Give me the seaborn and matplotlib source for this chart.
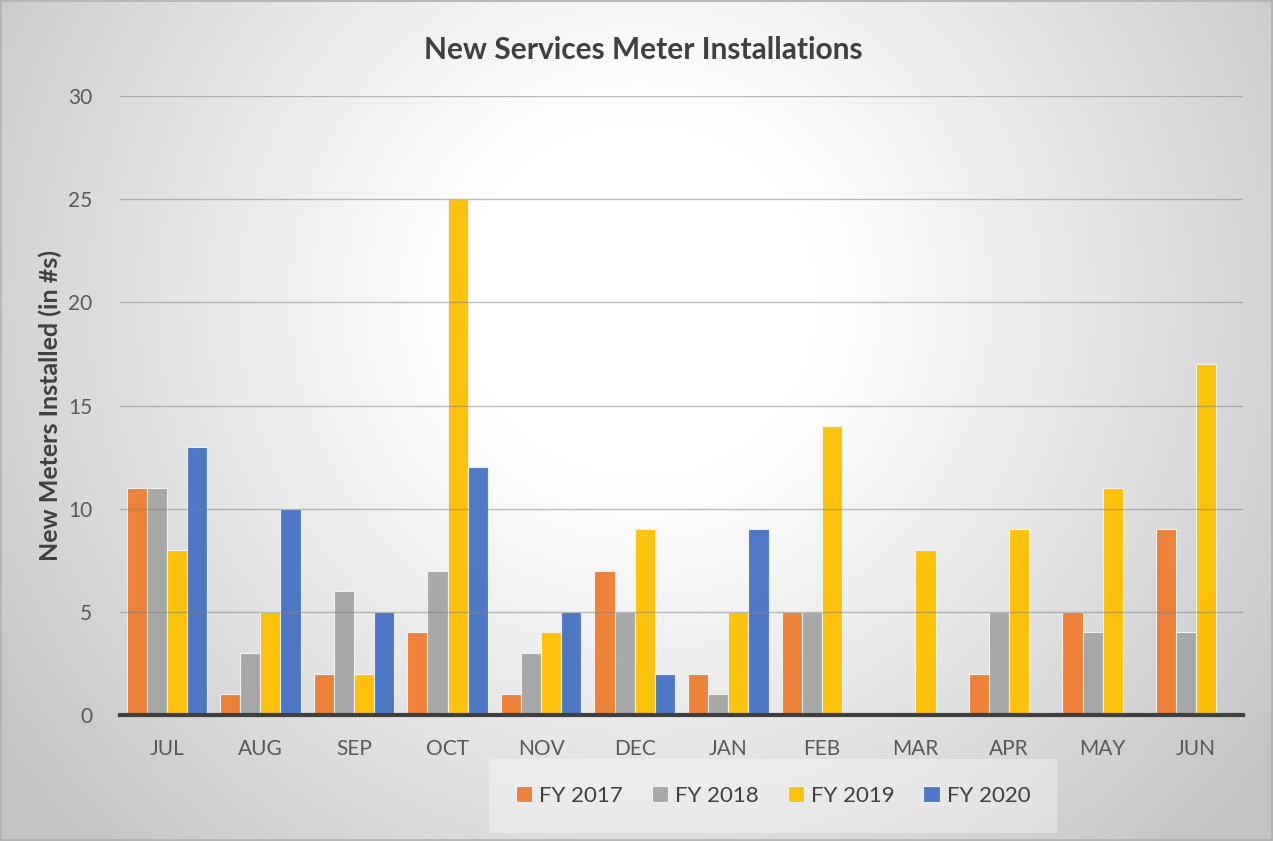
import numpy as np
import pandas as pd
import matplotlib
matplotlib.use("Agg")
import matplotlib.pyplot as plt
import seaborn as sns

months = ["JUL", "AUG", "SEP", "OCT", "NOV", "DEC", "JAN", "FEB", "MAR", "APR", "MAY", "JUN"]
fy2017 = [11, 1, 2, 4, 1, 7, 2, 5, 0, 2, 5, 9]
fy2018 = [11, 3, 6, 7, 3, 5, 1, 5, 0, 5, 4, 4]
fy2019 = [8, 5, 2, 25, 4, 9, 5, 14, 8, 9, 11, 17]
fy2020 = [13, 10, 5, 12, 5, 2, 9, np.nan, np.nan, np.nan, np.nan, np.nan]
series_names = ["FY 2017", "FY 2018", "FY 2019", "FY 2020"]
colors = ["#ED7D31", "#A5A5A5", "#FFC000", "#4472C4"]

rows = []
for name, vals in zip(series_names, [fy2017, fy2018, fy2019, fy2020]):
    for m, v in zip(months, vals):
        rows.append({"Month": m, "Series": name, "Value": v})
df = pd.DataFrame(rows)

sns.set_theme(style="white")
plt.rcParams["font.family"] = ["Lato", "DejaVu Sans"]

fig = plt.figure(figsize=(12.73, 8.41), dpi=100)

# radial gradient background
bg = fig.add_axes([0, 0, 1, 1], zorder=-10)
H, W = 841, 1273
yy, xx = np.mgrid[0:H, 0:W]
cx, cy = 640, 300
d = np.sqrt(((xx - cx) / 800.0) ** 2 + ((yy - cy) / 800.0) ** 2)
t = np.clip((d - 0.22) / 0.75, 0, 1)
v = 1.0 - 0.23 * t ** 1.1
img = np.dstack([v, v, v])
bg.imshow(img, extent=[0, 1, 0, 1], aspect="auto", origin="upper")
bg.set_axis_off()
bg.add_patch(plt.Rectangle((0.001, 0.001), 0.998, 0.998, fill=False, ec="#b0b0b0", lw=1.2, transform=bg.transAxes))

ax = fig.add_axes([120 / 1273, 1 - 715 / 841, (1243 - 120) / 1273, (715 - 96) / 841])
ax.patch.set_alpha(0)

sns.barplot(data=df, x="Month", y="Value", hue="Series", palette=colors, order=months,
            hue_order=series_names, width=0.86, ax=ax, edgecolor="#f4f4f4", linewidth=0.8,
            saturation=1, alpha=0.95, legend=True, zorder=2)

ax.set_ylim(0, 30)
ax.set_yticks([0, 5, 10, 15, 20, 25, 30])
ax.yaxis.grid(True, color="#7f7f7f", linewidth=1.0, alpha=0.5, zorder=3)
ax.set_axisbelow(False)
for s in ["top", "right", "left"]:
    ax.spines[s].set_visible(False)
ax.spines["bottom"].set_color("#404040")
ax.spines["bottom"].set_linewidth(3)
ax.spines["bottom"].set_zorder(5)
ax.tick_params(axis="x", length=0, labelsize=15, colors="#595959", pad=17)
ax.tick_params(axis="y", length=0, labelsize=15, colors="#595959", pad=20)
ax.set_xlabel("")
ax.set_ylabel("New Meters Installed (in #s)", fontsize=18, fontweight="bold", color="#404040", labelpad=4)

fig.text(643 / 1273, 1 - 50 / 841, "New Services Meter Installations", ha="center", va="center",
         fontsize=21.5, fontweight="bold", color="#404040")

handles, labels = ax.get_legend_handles_labels()
ax.get_legend().remove()
leg = fig.legend(handles, labels, loc="center", bbox_to_anchor=(773 / 1273, 1 - 796 / 841), ncol=4,
                 frameon=True, fontsize=16, handlelength=0.75, handleheight=0.75, handletextpad=0.3,
                 columnspacing=1.3, borderpad=1.2, labelcolor="#404040")
leg.get_frame().set_facecolor("white")
leg.get_frame().set_alpha(0.35)
leg.get_frame().set_edgecolor("none")
leg.get_frame().set_boxstyle("square", pad=0.0)

fig.savefig("out.png", dpi=100)
